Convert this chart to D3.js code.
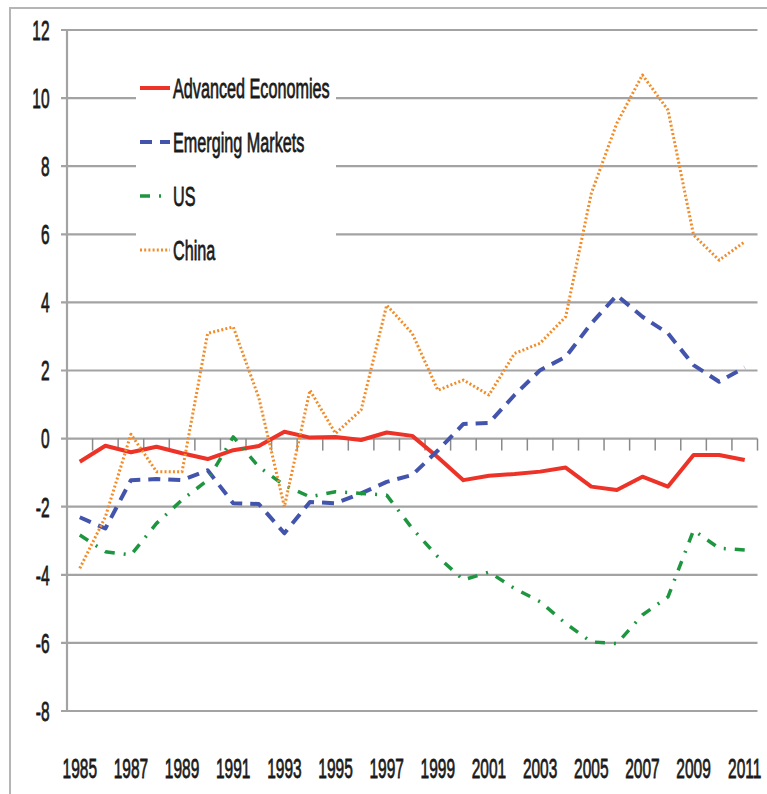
<!DOCTYPE html>
<html>
<head>
<meta charset="utf-8">
<script src="https://cdn.jsdelivr.net/npm/d3@7"></script>
<style>
  html, body { margin: 0; padding: 0; background: #fff; }
  svg { display: block; }
  text { font-family: "Liberation Sans", Arial, sans-serif; fill: #1a1a1a; stroke: #1a1a1a; stroke-width: 0.45; }
</style>
</head>
<body>
<svg id="chart" width="767" height="794"></svg>
<script>
const years = d3.range(1985, 2012);
const labelYears = [1985,1987,1989,1991,1993,1995,1997,1999,2001,2003,2005,2007,2009,2011];
const yTicks = [-8,-6,-4,-2,0,2,4,6,8,10,12];

const advanced = [-0.68,-0.21,-0.40,-0.24,-0.43,-0.60,-0.34,-0.22,0.20,0.03,0.05,-0.04,0.18,0.08,-0.55,-1.22,-1.09,-1.04,-0.97,-0.85,-1.41,-1.51,-1.12,-1.41,-0.48,-0.48,-0.63];
const emerging = [-2.31,-2.64,-1.22,-1.19,-1.22,-0.93,-1.90,-1.92,-2.78,-1.86,-1.90,-1.61,-1.27,-1.07,-0.35,0.43,0.46,1.28,2.01,2.40,3.38,4.21,3.58,3.09,2.16,1.67,2.09];
const us = [-2.83,-3.32,-3.42,-2.49,-1.80,-1.22,0.05,-0.83,-1.37,-1.71,-1.56,-1.61,-1.66,-2.64,-3.47,-4.15,-3.92,-4.40,-4.79,-5.43,-5.97,-6.02,-5.18,-4.65,-2.69,-3.22,-3.27];
const china = [-3.81,-2.30,0.13,-0.97,-0.97,3.09,3.28,1.20,-2.00,1.42,0.15,0.84,3.92,3.09,1.42,1.72,1.28,2.50,2.80,3.58,7.20,9.26,10.68,9.65,5.98,5.24,5.78];

const seriesNames = ["Advanced Economies", "Emerging Markets", "US", "China"];
const seriesValues = [advanced, emerging, us, china];
const styles = [
  {color: "#ED3327", width: 4, dash: null},
  {color: "#4354AC", width: 4, dash: "12,8"},
  {color: "#1E9640", width: 3.5, dash: "10,9,2,9"},
  {color: "#F28C28", width: 3, dash: "2,2.2"}
];

(function () {
const svg = d3.select("#chart");
const pL = 67, pR = 757.5, pT = 30, pB = 711;
const x = d3.scaleBand().domain(years).range([pL, pR]).paddingInner(0).paddingOuter(0);
const y = d3.scaleLinear().domain([-8, 12]).range([pB, pT]);
const cx = d => x(d) + x.bandwidth() / 2;

// outer border
svg.append("rect").attr("x", 10).attr("y", 8).attr("width", 800).attr("height", 800)
  .attr("fill", "none").attr("stroke", "#b5b5b5").attr("stroke-width", 2);

// gridlines
svg.append("g").selectAll("line").data(yTicks).join("line")
  .attr("x1", 61).attr("x2", pR)
  .attr("y1", d => y(d)).attr("y2", d => y(d))
  .attr("stroke", "#a3a3a3").attr("stroke-width", 2.2);

// y axis line
svg.append("line").attr("x1", pL).attr("x2", pL).attr("y1", pT).attr("y2", pB)
  .attr("stroke", "#a3a3a3").attr("stroke-width", 2.2);

// category boundary ticks at y=0
const bounds = years.map(d => x(d)).concat([pR]);
svg.append("g").selectAll("line").data(bounds.slice(1)).join("line")
  .attr("x1", d => d).attr("x2", d => d)
  .attr("y1", y(0)).attr("y2", y(0) + 12)
  .attr("stroke", "#8a8a8a").attr("stroke-width", 1.5);

// y labels (stretched text)
const sy = 1.75, fs = 15.5;
svg.append("g").selectAll("text").data(yTicks).join("text")
  .attr("transform", d => `translate(49.5,${y(d)}) scale(1,${sy})`)
  .attr("y", 5.6).attr("text-anchor", "end")
  .attr("font-size", fs).text(d => d);

// x labels
svg.append("g").selectAll("text").data(labelYears).join("text")
  .attr("transform", d => `translate(${cx(d)},778) scale(1,${sy})`)
  .attr("text-anchor", "middle")
  .attr("font-size", fs).text(d => d);

// lines
const line = d3.line().x((d, i) => cx(years[i])).y(d => y(d));
seriesValues.forEach((vals, k) => {
  const s = styles[k];
  svg.append("path").datum(vals)
    .attr("d", line)
    .attr("fill", "none")
    .attr("stroke", s.color)
    .attr("stroke-width", s.width)
    .attr("stroke-linejoin", "round")
    .attr("stroke-dasharray", s.dash);
});

// legend
const legend = svg.append("g");
legend.append("rect").attr("x", 136).attr("y", 62).attr("width", 200).attr("height", 212).attr("fill", "#fff");
const rowY = [88, 142, 196, 250];
seriesNames.forEach((name, k) => {
  const s = styles[k];
  legend.append("line").attr("x1", 140).attr("x2", 170).attr("y1", rowY[k]).attr("y2", rowY[k])
    .attr("stroke", s.color).attr("stroke-width", s.width)
    .attr("stroke-dasharray", s.dash);
  legend.append("text")
    .attr("transform", `translate(173,${rowY[k]}) scale(1,${sy})`)
    .attr("y", 5.6).attr("font-size", 16.2).text(name);
});
})();
</script>
</body>
</html>
